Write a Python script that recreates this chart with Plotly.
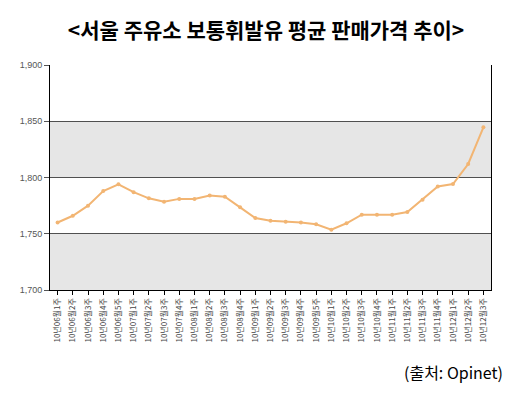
import plotly.graph_objects as go

weeks = ["10년06월1주", "10년06월2주", "10년06월3주", "10년06월4주", "10년06월5주",
         "10년07월1주", "10년07월2주", "10년07월3주", "10년07월4주",
         "10년08월1주", "10년08월2주", "10년08월3주", "10년08월4주",
         "10년09월1주", "10년09월2주", "10년09월3주", "10년09월4주", "10년09월5주",
         "10년10월1주", "10년10월2주", "10년10월3주", "10년10월4주",
         "10년11월1주", "10년11월2주", "10년11월3주", "10년11월4주",
         "10년12월1주", "10년12월2주", "10년12월3주"]
prices = [1760, 1766, 1775, 1788, 1794, 1787, 1781.5, 1778.5, 1781, 1781,
          1784, 1783, 1773.5, 1764, 1761.5, 1760.7, 1759.9, 1758.4, 1753.6,
          1759.3, 1767, 1767, 1767, 1769.3, 1780.3, 1792, 1794.2, 1812, 1844.6]
y_ticks = [1700, 1750, 1800, 1850, 1900]
y_tick_text = ["1,700", "1,750", "1,800", "1,850", "1,900"]
gray_bands = [(1700, 1750), (1800, 1850)]

fig = go.Figure()
fig.add_trace(go.Scatter(
    x=weeks, y=prices, mode="lines+markers",
    line=dict(color="#F2B573", width=2),
    marker=dict(color="#F2B573", size=4),
    showlegend=False,
))

for lo, hi in gray_bands:
    fig.add_shape(type="rect", xref="paper", yref="y", x0=0, x1=1, y0=lo, y1=hi,
                  fillcolor="#E6E6E6", line=dict(width=0), layer="below")

fig.update_layout(
    width=506, height=385,
    margin=dict(l=33, r=23, t=57, b=103),
    paper_bgcolor="white", plot_bgcolor="white",
    title=dict(text="<b><서울 주유소 보통휘발유 평균 판매가격 추이></b>",
               x=0.51, xanchor="center", y=0.94, yanchor="middle",
               font=dict(family="Noto Sans CJK KR", size=21, color="black")),
    xaxis=dict(
        type="category", range=[-0.5, len(weeks) - 0.5],
        tickangle=-90, ticks="outside", ticklen=4, tickcolor="black",
        showline=True, linecolor="black", linewidth=1,
        showgrid=False,
        tickfont=dict(family="Noto Sans CJK KR", size=8, color="#444444"),
    ),
    yaxis=dict(
        range=[1700, 1900], tickvals=y_ticks, ticktext=y_tick_text,
        ticks="outside", ticklen=5, tickcolor="#555555",
        showline=True, linecolor="black", linewidth=1, mirror=True,
        showgrid=True, gridcolor="#505050", gridwidth=1,
        zeroline=False,
        tickfont=dict(family="Liberation Sans", size=9, color="#555555"),
    ),
    annotations=[dict(text="(출처: Opinet)", xref="paper", yref="paper",
                      x=1.031, y=-0.364, xanchor="right", yanchor="middle",
                      showarrow=False,
                      font=dict(family="Noto Sans CJK KR", size=16, color="black"))],
)

fig.write_html("out.html")
